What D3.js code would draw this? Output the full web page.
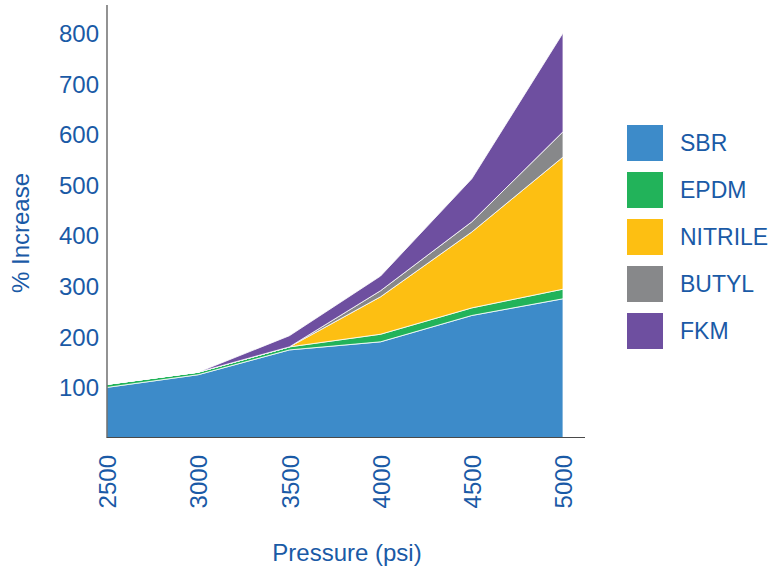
<!DOCTYPE html>
<meta charset="utf-8">
<script src="https://cdn.jsdelivr.net/npm/d3@7"></script>
<style>
  body { margin: 0; background: #fff; }
  text { font-family: "Liberation Sans", Arial, sans-serif; fill: #1a5aa6; }
</style>
<div id="chart"></div>
<script>
// pressure steps (psi)
var pressures = [2500, 3000, 3500, 4000, 4500, 5000];
var materials = ["SBR", "EPDM", "NITRILE", "BUTYL", "FKM"];
// % increase per material, stacked in this order
var sbr     = [100, 125, 174, 190, 242, 275];
var epdm    = [6, 5, 6, 15, 15, 19];
var nitrile = [0, 0, 0, 74, 150, 261];
var butyl   = [0, 0, 0, 12, 20, 50];
var fkm     = [0, 0, 22, 29, 85, 195];
var yTicks  = [100, 200, 300, 400, 500, 600, 700, 800];

var colors = ["#3d8bc9", "#22b35a", "#fdbf12", "#87888a", "#6e4fa0"];
var series = [sbr, epdm, nitrile, butyl, fkm];

var rows = pressures.map(function(p, i) {
  var r = {pressure: p};
  materials.forEach(function(m, j) { r[m] = series[j][i]; });
  return r;
});

var svg = d3.select("#chart").append("svg")
  .attr("width", 773).attr("height", 567);

var x = d3.scalePoint().domain(pressures).range([107, 563]);
var y = d3.scaleLinear().domain([0, 800]).range([438, 33]);

var stack = d3.stack().keys(materials)(rows);

var area = d3.area()
  .x(function(d) { return x(d.data.pressure); })
  .y0(function(d) { return y(d[0]); })
  .y1(function(d) { return y(d[1]); });

svg.append("g").selectAll("path")
  .data(stack)
  .enter().append("path")
    .attr("d", area)
    .attr("fill", function(d, i) { return colors[i]; })
    .attr("stroke", "#fff")
    .attr("stroke-width", 0.8)
    .attr("stroke-linejoin", "round");

// axes
var yAxis = svg.append("g")
  .attr("transform", "translate(99,0)")
  .call(d3.axisLeft(y).tickValues(yTicks).tickSize(0).tickPadding(0));
yAxis.select(".domain").remove();
yAxis.selectAll("text").style("font-size", "24px").attr("dy", "0.35em");

var xAxis = svg.append("g")
  .attr("transform", "translate(0,455)")
  .call(d3.axisBottom(x).tickSize(0).tickPadding(0));
xAxis.select(".domain").remove();
xAxis.selectAll("text")
  .style("font-size", "24px")
  .attr("transform", "rotate(-90)")
  .attr("text-anchor", "end")
  .attr("x", 0).attr("y", 0).attr("dy", "0.36em");

svg.append("line")
  .attr("x1", 107).attr("x2", 107).attr("y1", 5).attr("y2", 437.5)
  .attr("stroke", "#4a4a4a").attr("stroke-width", 1.2);
svg.append("line")
  .attr("x1", 106.5).attr("x2", 585).attr("y1", 437.5).attr("y2", 437.5)
  .attr("stroke", "#4a4a4a").attr("stroke-width", 1.2);

// axis titles
svg.append("text")
  .attr("transform", "translate(29,233) rotate(-90)")
  .attr("text-anchor", "middle")
  .style("font-size", "24px")
  .text("% Increase");
svg.append("text")
  .attr("x", 347).attr("y", 561)
  .attr("text-anchor", "middle")
  .style("font-size", "24px")
  .text("Pressure (psi)");

// legend
var legend = svg.append("g").selectAll("g")
  .data(materials)
  .enter().append("g")
    .attr("transform", function(d, i) { return "translate(627," + (125 + i * 47) + ")"; });
legend.append("rect")
  .attr("width", 36).attr("height", 36)
  .attr("fill", function(d, i) { return colors[i]; });
legend.append("text")
  .attr("x", 53).attr("y", 18).attr("dy", "0.36em")
  .style("font-size", "23px")
  .text(function(d) { return d; });
</script>
